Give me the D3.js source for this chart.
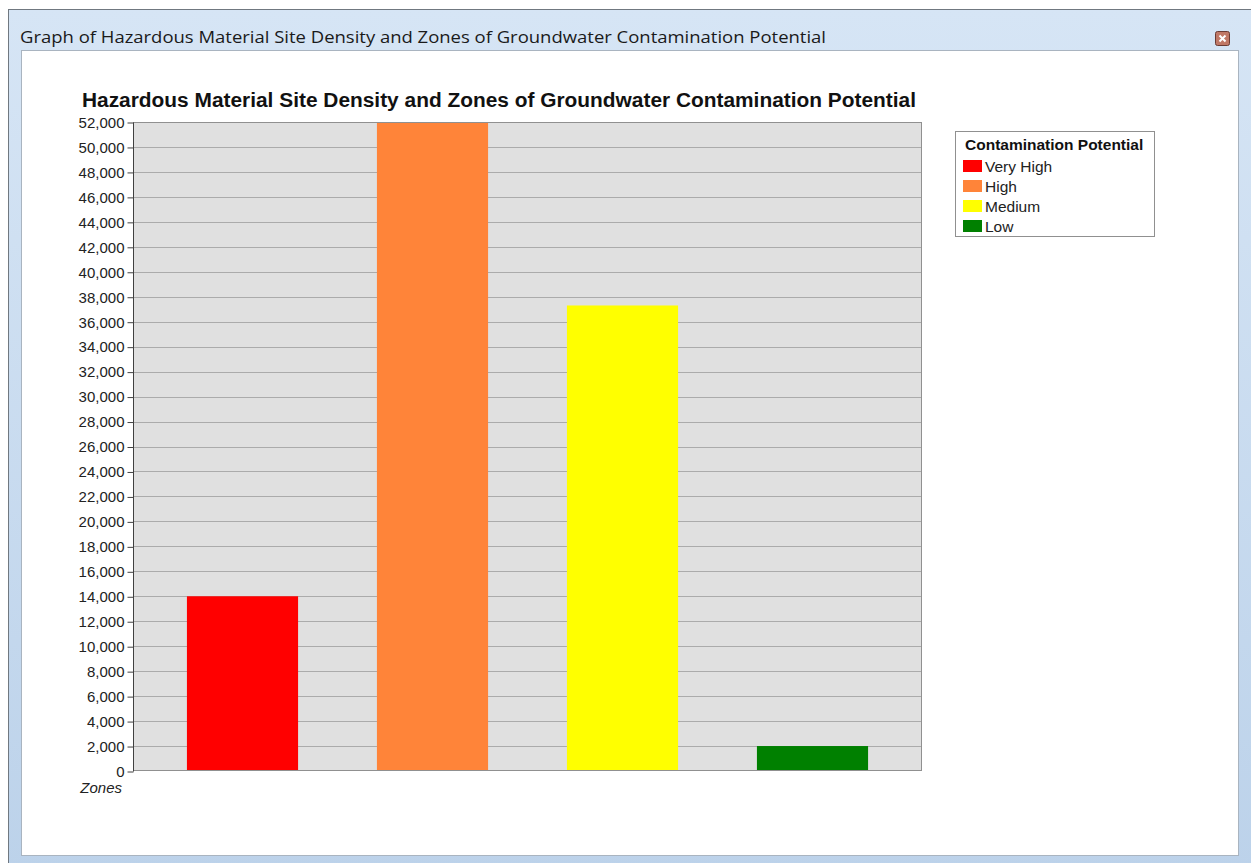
<!DOCTYPE html>
<html>
<head>
<meta charset="utf-8">
<script src="https://cdn.jsdelivr.net/npm/d3@7"></script>
<style>
  body { margin: 0; background: #ffffff; }
  svg { display: block; }
</style>
</head>
<body>
<script>
// chart data
var zones = ["Very High", "High", "Medium", "Low"];
var siteCounts = [14000, 52000, 37300, 2000];
var zoneColors = ["#ff0000", "#ff8439", "#ffff00", "#008000"];
var yTicks = d3.range(0, 52001, 2000);

var W = 1251, H = 863;
var svg = d3.select("body").append("svg")
    .attr("width", W)
    .attr("height", H);

var defs = svg.append("defs");
var grad = defs.append("linearGradient")
    .attr("id", "bar")
    .attr("x1", 0).attr("y1", 0).attr("x2", 0).attr("y2", 1);
grad.append("stop").attr("offset", 0).attr("stop-color", "#d6e5f5");
grad.append("stop").attr("offset", 1).attr("stop-color", "#bcd2ea");

// window frame
svg.append("rect")
    .attr("x", 8.5).attr("y", 9.5)
    .attr("width", W).attr("height", H)
    .attr("fill", "url(#bar)")
    .attr("stroke", "#707880");

svg.append("rect")
    .attr("x", 21.5).attr("y", 50.5)
    .attr("width", 1217).attr("height", 805)
    .attr("fill", "#ffffff")
    .attr("stroke", "#a9b4c0");

svg.append("text")
    .attr("x", 20).attr("y", 43)
    .attr("font-family", "Open Sans, sans-serif")
    .attr("font-size", 16)
    .attr("textLength", 806)
    .attr("lengthAdjust", "spacingAndGlyphs")
    .attr("fill", "#1a1a1a")
    .text("Graph of Hazardous Material Site Density and Zones of Groundwater Contamination Potential");

// close button
var cb = svg.append("g").attr("transform", "translate(1215,31)");
cb.append("rect")
    .attr("x", 0.5).attr("y", 0.5).attr("width", 14).attr("height", 14)
    .attr("rx", 2)
    .attr("fill", "#c07866").attr("stroke", "#6b3b33");
cb.append("path")
    .attr("d", "M4.5,4.5L10.5,10.5M10.5,4.5L4.5,10.5")
    .attr("stroke", "#ffffff").attr("stroke-width", 2);

// chart
var plot = { left: 133, right: 922, top: 122, bottom: 771 };

var x = d3.scaleBand()
    .domain(zones)
    .range([147.5, 907.5])
    .paddingInner(0.415)
    .paddingOuter(0.2075);

var y = d3.scaleLinear()
    .domain([0, 52000])
    .range([plot.bottom, plot.top]);

svg.append("text")
    .attr("x", 82).attr("y", 107)
    .attr("font-family", "Liberation Sans, Arial, sans-serif")
    .attr("font-weight", "bold")
    .attr("font-size", 19.5)
    .attr("textLength", 834)
    .attr("lengthAdjust", "spacingAndGlyphs")
    .attr("fill", "#111")
    .text("Hazardous Material Site Density and Zones of Groundwater Contamination Potential");

svg.append("rect")
    .attr("x", plot.left).attr("y", plot.top)
    .attr("width", plot.right - plot.left)
    .attr("height", plot.bottom - plot.top)
    .attr("fill", "#e0e0e0");

// grid lines
svg.append("g")
    .selectAll("line")
    .data(yTicks.slice(1))
    .join("line")
    .attr("x1", plot.left).attr("x2", plot.right)
    .attr("y1", d => Math.round(y(d)) + 0.5)
    .attr("y2", d => Math.round(y(d)) + 0.5)
    .attr("stroke", "#ababab");

// bars
svg.append("g")
    .selectAll("rect")
    .data(siteCounts)
    .join("rect")
    .attr("x", (d, i) => x(zones[i]))
    .attr("width", x.bandwidth())
    .attr("y", d => y(d))
    .attr("height", d => y(0) - y(d))
    .attr("fill", (d, i) => zoneColors[i]);

// plot border
svg.append("rect")
    .attr("x", plot.left + 0.5).attr("y", plot.top + 0.5)
    .attr("width", plot.right - plot.left - 1)
    .attr("height", plot.bottom - plot.top - 1)
    .attr("fill", "none")
    .attr("stroke", "#909090");

// y axis
var yAxis = svg.append("g")
    .attr("transform", "translate(" + (plot.left + 0.5) + ",0.5)")
    .call(d3.axisLeft(y)
        .tickValues(yTicks)
        .tickSize(6)
        .tickPadding(3)
        .tickFormat(d3.format(",")));
yAxis.select(".domain").attr("stroke", "#404040").attr("d", "M0," + (plot.top) + "V" + plot.bottom);
yAxis.selectAll(".tick line").attr("stroke", "#404040");
yAxis.selectAll(".tick text")
    .attr("font-family", "Liberation Sans, Arial, sans-serif")
    .attr("font-size", 15)
    .attr("fill", "#222");

svg.append("text")
    .attr("x", 122).attr("y", 793)
    .attr("text-anchor", "end")
    .attr("font-family", "Liberation Sans, Arial, sans-serif")
    .attr("font-style", "italic")
    .attr("font-size", 15)
    .attr("fill", "#222")
    .text("Zones");

// legend
var lg = svg.append("g").attr("transform", "translate(955,131)");
lg.append("rect")
    .attr("x", 0.5).attr("y", 0.5)
    .attr("width", 199).attr("height", 105)
    .attr("fill", "#ffffff")
    .attr("stroke", "#909090");
lg.append("text")
    .attr("x", 10).attr("y", 19)
    .attr("font-family", "Liberation Sans, Arial, sans-serif")
    .attr("font-weight", "bold")
    .attr("font-size", 15.5)
    .attr("fill", "#111")
    .text("Contamination Potential");

var items = lg.selectAll("g.item")
    .data(zones)
    .join("g")
    .attr("class", "item")
    .attr("transform", (d, i) => "translate(8," + (29 + i * 20) + ")");
items.append("rect")
    .attr("width", 19).attr("height", 12)
    .attr("fill", (d, i) => zoneColors[i]);
items.append("text")
    .attr("x", 22).attr("y", 11.5)
    .attr("font-family", "Liberation Sans, Arial, sans-serif")
    .attr("font-size", 15.5)
    .attr("fill", "#222")
    .text(d => d);
</script>
</body>
</html>
